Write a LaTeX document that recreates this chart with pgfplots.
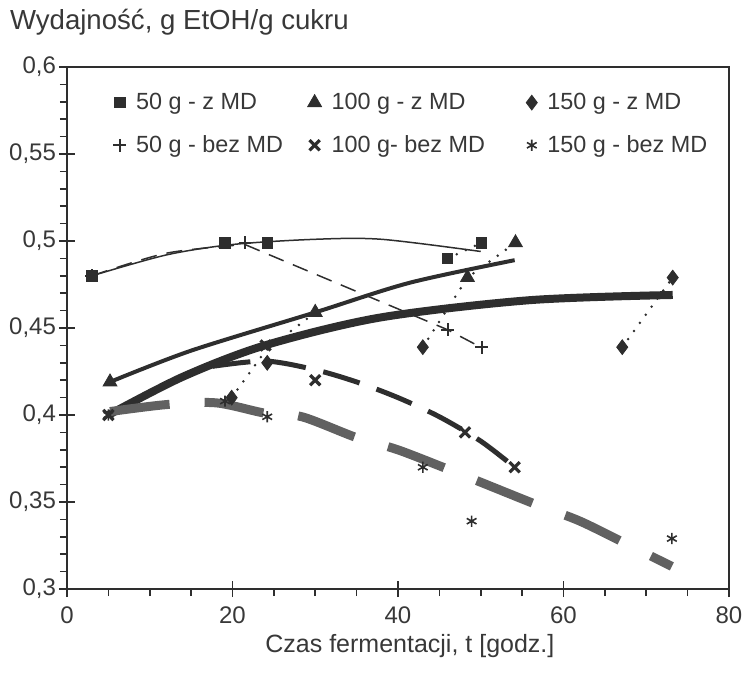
\documentclass[border=0pt]{standalone}
\usepackage{pgfplots}
\pgfplotsset{compat=1.18}
\usepackage{fontspec}
\setmainfont{Liberation Sans}
\definecolor{ink}{HTML}{2E2E2E}
\definecolor{txt}{HTML}{383838}
\definecolor{gr}{HTML}{616161}
\begin{document}
\begin{tikzpicture}
\begin{axis}[
  scale only axis, width=331pt, height=261pt,
  xmin=0, xmax=80, ymin=0.3, ymax=0.6,
  xtick={0,20,40,60,80},
  ytick={0.3,0.35,0.4,0.45,0.5,0.55,0.6},
  minor x tick num=3, minor y tick num=4,
  xtick pos=bottom, ytick pos=left,
  tick align=outside,
  major tick length=8pt, minor tick length=3.5pt,
  major x tick style={yshift=4pt},
  major y tick style={xshift=4pt},
  tick style={ink, line width=0.8pt},
  axis line style={ink, line width=0.8pt},
  /pgf/number format/assume math mode=true,
  yticklabel style={/pgf/number format/.cd, use comma, fixed, precision=2, /tikz/.cd, font=\fontsize{12}{12}\selectfont, text=txt, xshift=6pt},
  xticklabel style={font=\fontsize{12}{12}\selectfont, text=txt, yshift=2.5pt},
  xlabel={Czas fermentacji, t [godz.]},
  xlabel style={font=\fontsize{12.5}{13}\selectfont, text=txt, at={(axis description cs:0.518,-0.109)}, anchor=center},
  legend columns=3,
  legend cell align=left,
  legend image code/.code={\draw[#1] plot coordinates {(0pt,0pt)};},
  legend style={draw=none, fill=none, inner sep=0pt, outer sep=0pt,
    at={(0.07,0.958)}, anchor=north west,
    font=\fontsize{11.7}{13}\selectfont, text=txt, row sep=7.5pt,
    /tikz/column 1/.style={column sep=3pt},
    /tikz/column 2/.style={column sep=10.3pt},
    /tikz/column 3/.style={column sep=3pt},
    /tikz/column 4/.style={column sep=18.6pt},
    /tikz/column 5/.style={column sep=3pt}},
  clip=false,
]
% ---- fitted curves ----
\addplot[ink, line width=0.75pt, smooth, forget plot] coordinates {(3,0.480)(12,0.492)(20,0.498)(30,0.501)(38,0.501)(50,0.494)};
\addplot[ink, line width=0.75pt, smooth, dash pattern=on 8pt off 5pt, forget plot] coordinates {(3,0.480)(12,0.493)(21.5,0.498)};
\addplot[ink, line width=0.75pt, dash pattern=on 8pt off 5pt, forget plot] coordinates {(21.5,0.498)(46,0.449)(50,0.439)};
\addplot[ink, line width=2pt, smooth, forget plot] coordinates {(5.2,0.419)(15,0.437)(30,0.459)(41.4,0.476)(54.1,0.489)};
\addplot[ink, line width=4pt, smooth, forget plot] coordinates {(5,0.400)(14,0.422)(23.9,0.440)(37.8,0.456)(55.9,0.466)(73.2,0.469)};
\addplot[ink, line width=2.5pt, smooth, dash pattern=on 19pt off 9pt, forget plot] coordinates {(17.6,0.428)(24,0.431)(30,0.426)(35,0.419)(40,0.410)(45,0.399)(50,0.385)(54.1,0.370)};
\addplot[gr, line width=4.5pt, smooth, dash pattern=on 30pt off 17.5pt, forget plot] coordinates {(5.2,0.402)(12,0.406)(18,0.407)(24,0.401)(28.4,0.399)(35,0.387)(40,0.380)(46.5,0.368)(50.2,0.361)(57,0.348)(62,0.339)(68,0.325)(73.1,0.313)};
% ---- dotted connectors ----
\addplot[ink, line width=1.4pt, line cap=round, dash pattern=on 0pt off 5pt, forget plot] coordinates {(19.9,0.410)(24,0.437)(30,0.459)};
\addplot[ink, line width=1.4pt, line cap=round, dash pattern=on 0pt off 5pt, forget plot] coordinates {(43,0.439)(48.4,0.479)(54.2,0.499)};
\addplot[ink, line width=1.4pt, line cap=round, dash pattern=on 0pt off 5pt, forget plot] coordinates {(46,0.490)(50.1,0.499)};
\addplot[ink, line width=1.4pt, line cap=round, dash pattern=on 0pt off 5pt, forget plot] coordinates {(67.1,0.439)(73.2,0.479)};
% ---- markers ----
\addplot[only marks, mark=square*, mark size=2.6pt, ink] coordinates {(3,0.480)(19.1,0.499)(24.2,0.499)(46,0.490)(50.1,0.499)};
\addlegendentry{50 g - z MD}
\addplot[only marks, mark=triangle*, mark size=4pt, ink] coordinates {(5.2,0.419)(30,0.459)(48.4,0.479)(54.2,0.499)};
\addlegendentry{100 g - z MD}
\addplot[only marks, mark=diamond*, mark size=3.7pt, ink] coordinates {(19.9,0.410)(24.2,0.430)(43,0.439)(67.1,0.439)(73.2,0.479)};
\addlegendentry{150 g - z MD}
\addplot[only marks, mark=+, mark size=3.2pt, ink, line width=1pt] coordinates {(3,0.480)(21.5,0.499)(46,0.449)(50.1,0.439)};
\addlegendentry{50 g - bez MD}
\addplot[only marks, mark=x, mark size=3.6pt, ink, line width=1.6pt] coordinates {(5,0.400)(24,0.440)(30,0.420)(48.1,0.390)(54.1,0.370)};
\addlegendentry{100 g- bez MD}
\addplot[only marks, mark=asterisk, mark size=2.8pt, ink, line width=0.8pt] coordinates {(5,0.400)(19.1,0.408)(24.2,0.399)(43,0.370)(48.9,0.339)(73.1,0.329)};
\addlegendentry{150 g - bez MD}
% ---- text and frame ----
\node[anchor=west, font=\fontsize{13.8}{14}\selectfont, text=txt] at (rel axis cs:-0.0967,1.0862) {Wydajność, g EtOH/g cukru};
\coordinate (bl) at (rel axis cs:-0.1012,-0.1724);
\coordinate (tr) at (rel axis cs:1.0257,1.1284);
\end{axis}
\pgfresetboundingbox
\useasboundingbox (bl) rectangle (tr);
\end{tikzpicture}
\end{document}
